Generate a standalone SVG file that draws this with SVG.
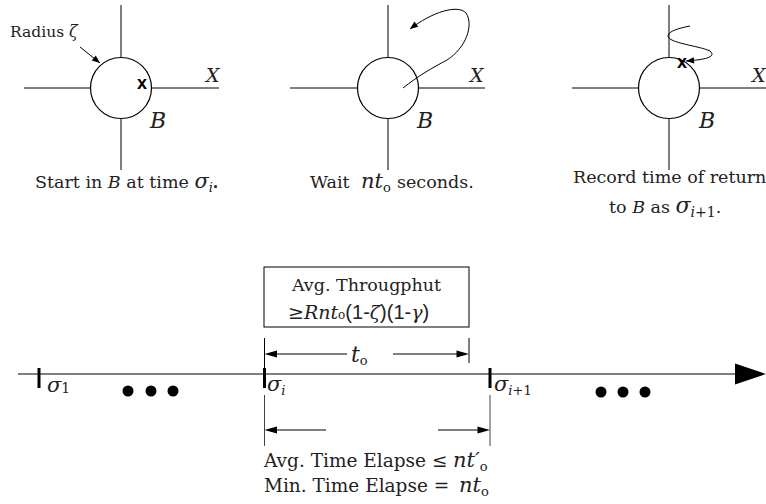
<svg xmlns="http://www.w3.org/2000/svg" width="766" height="504" viewBox="0 0 766 504">
<defs>
<style>
.ln{stroke:#000;stroke-width:1;fill:none}
.gl{stroke:#444;stroke-width:1;fill:none}
.crc{stroke:#000;stroke-width:1.2;fill:#fff}
.tk{stroke:#000;stroke-width:3;fill:none}
.t{fill:#222}
.dot{fill:#000}
</style>
<marker id="ah" viewBox="0 0 10 10" refX="10" refY="5" markerWidth="10" markerHeight="8" orient="auto" markerUnits="userSpaceOnUse">
<path d="M0,1 L10,5 L0,9 z" fill="#000"/>
</marker>
</defs>

<g id="panel1">
<line class="ln" x1="121" y1="5" x2="121" y2="170"/>
<line class="ln" x1="24" y1="88" x2="219" y2="88"/>
<circle class="crc" cx="121" cy="88" r="30.5"/>
<text x="137" y="89" font-family="Liberation Sans, sans-serif" font-weight="bold" font-size="18">x</text>
<text class="t" x="206" y="82" font-family="DejaVu Serif, serif" font-style="italic" font-size="19">X</text>
<text class="t" x="150" y="128" font-family="DejaVu Serif, serif" font-style="italic" font-size="22">B</text>
<text class="t" x="10" y="37" font-family="DejaVu Serif, serif" font-size="15.5">Radius <tspan font-style="italic" font-size="16">ζ</tspan></text>
<line class="ln" x1="80" y1="47" x2="100" y2="63" marker-end="url(#ah)"/>
<text class="t" x="35" y="188" font-family="DejaVu Serif, serif" font-size="17.5">Start in <tspan font-style="italic">B</tspan> at time <tspan font-style="italic" font-size="21">σ</tspan><tspan font-style="italic" font-size="13" dy="4">i</tspan><tspan font-weight="bold" font-family="Liberation Sans, sans-serif" font-size="18" dy="-4">.</tspan></text>
</g>

<g id="panel2">
<line class="ln" x1="388" y1="5" x2="388" y2="170"/>
<line class="ln" x1="290" y1="88" x2="485" y2="88"/>
<circle class="crc" cx="388" cy="88" r="30.5"/>
<text class="t" x="470" y="82" font-family="DejaVu Serif, serif" font-style="italic" font-size="19">X</text>
<text class="t" x="417" y="128" font-family="DejaVu Serif, serif" font-style="italic" font-size="22">B</text>
<text class="t" x="310" y="188" font-family="DejaVu Serif, serif" font-size="17.5">Wait <tspan x="361" font-style="italic" font-size="21">nt</tspan><tspan font-size="13" dy="4">o</tspan><tspan x="397" dy="-4">seconds.</tspan></text>
</g>

<g id="panel3">
<line class="ln" x1="669" y1="5" x2="669" y2="170"/>
<line class="ln" x1="572" y1="88" x2="766" y2="88"/>
<circle class="crc" cx="669" cy="88" r="30.5"/>
<text class="t" x="752" y="82" font-family="DejaVu Serif, serif" font-style="italic" font-size="19">X</text>
<text class="t" x="699" y="128" font-family="DejaVu Serif, serif" font-style="italic" font-size="22">B</text>
<text x="677" y="68" font-family="Liberation Sans, sans-serif" font-weight="bold" font-size="18">x</text>
<text class="t" x="573" y="183" font-family="DejaVu Serif, serif" font-size="17.5">Record time of return</text>
<text class="t" x="609" y="213" font-family="DejaVu Serif, serif" font-size="17.5">to <tspan font-style="italic">B</tspan> as <tspan font-style="italic" font-size="22">σ</tspan><tspan font-style="italic" font-size="14" dy="4">i</tspan><tspan font-size="14">+1</tspan><tspan dy="-4">.</tspan></text>
</g>

<g id="box">
<rect x="264" y="267" width="205" height="60" fill="#fff" stroke="#000" stroke-width="1"/>
<text class="t" x="366.5" y="291" text-anchor="middle" font-family="DejaVu Serif, serif" font-size="17.5">Avg. Througphut</text>
<text class="t" x="288" y="319" font-family="DejaVu Serif, serif" font-size="19">≥<tspan font-style="italic">Rnt</tspan><tspan font-size="12">o</tspan><tspan font-family="Liberation Sans, sans-serif" font-size="20">(1-</tspan><tspan font-style="italic">ζ</tspan><tspan font-family="Liberation Sans, sans-serif" font-size="20">)(1-</tspan><tspan font-style="italic">γ</tspan><tspan font-family="Liberation Sans, sans-serif" font-size="20">)</tspan></text>
</g>

<g id="timeline">
<line class="ln" x1="18" y1="374" x2="740" y2="374"/>
<path d="M735,363.5 L766,374 L735,384.5 z" fill="#000"/>
<line class="tk" x1="39" y1="368" x2="39" y2="388"/>
<line class="tk" x1="264.5" y1="368" x2="264.5" y2="388"/>
<line class="tk" x1="490" y1="368" x2="490" y2="388"/>
<text class="t" x="47" y="392" font-family="DejaVu Serif, serif" font-style="italic" font-size="21">σ<tspan font-size="14" font-style="normal" dy="1">1</tspan></text>
<text class="t" x="267" y="391" font-family="DejaVu Serif, serif" font-style="italic" font-size="21">σ<tspan font-size="13" dy="4">i</tspan></text>
<text class="t" x="494" y="391" font-family="DejaVu Serif, serif" font-style="italic" font-size="21">σ<tspan font-size="13" dy="4">i</tspan><tspan font-size="13" font-style="normal">+1</tspan></text>
<circle class="dot" cx="128" cy="391" r="5.5"/>
<circle class="dot" cx="151" cy="391" r="5.5"/>
<circle class="dot" cx="173" cy="391" r="5.5"/>
<circle class="dot" cx="601" cy="392" r="5.5"/>
<circle class="dot" cx="623" cy="392" r="5.5"/>
<circle class="dot" cx="645" cy="392" r="5.5"/>
</g>

<g id="connectors">
<path class="ln" d="M403,88 C418,76 432,68 447,60 C466,48 474,25 466,13 C458,4 432,12 410,29" marker-end="url(#ah)"/>
<path class="ln" d="M690,26 C680,28 668,31 668,36 C668,43 700,46 710,51 C718,58 700,60 686,61" marker-end="url(#ah)"/>
<line class="ln" x1="264.5" y1="338" x2="264.5" y2="368"/>
<line class="ln" x1="469" y1="338" x2="469" y2="363"/>
<line class="ln" x1="276" y1="354" x2="347" y2="354"/>
<path d="M264.5,354 L277,350.5 L277,357.5 z" fill="#000"/>
<line class="ln" x1="393" y1="354" x2="458" y2="354"/>
<path d="M469,354 L456.5,350.5 L456.5,357.5 z" fill="#000"/>
<text class="t" x="351" y="362" font-family="DejaVu Serif, serif" font-style="italic" font-size="22">t<tspan font-size="13" font-style="normal" dy="3">o</tspan></text>
<line class="gl" x1="264.5" y1="395" x2="264.5" y2="446"/>
<line class="gl" x1="490" y1="395" x2="490" y2="446"/>
<line class="ln" x1="276" y1="430" x2="326" y2="430"/>
<path d="M264.5,430 L277,426.5 L277,433.5 z" fill="#000"/>
<line class="ln" x1="438" y1="430" x2="478" y2="430"/>
<path d="M490,430 L477.5,426.5 L477.5,433.5 z" fill="#000"/>
</g>

<g id="labels">
<text class="t" x="264" y="467" font-family="DejaVu Serif, serif" font-size="18.5">Avg. Time Elapse ≤<tspan x="453" font-style="italic" font-size="21">nt′</tspan><tspan font-size="13" dy="4">o</tspan></text>
<text class="t" x="264" y="492" font-family="DejaVu Serif, serif" font-size="18.5">Min. Time Elapse =<tspan x="459" font-style="italic" font-size="21">nt</tspan><tspan font-size="13" dy="4">o</tspan></text>
</g>
</svg>
